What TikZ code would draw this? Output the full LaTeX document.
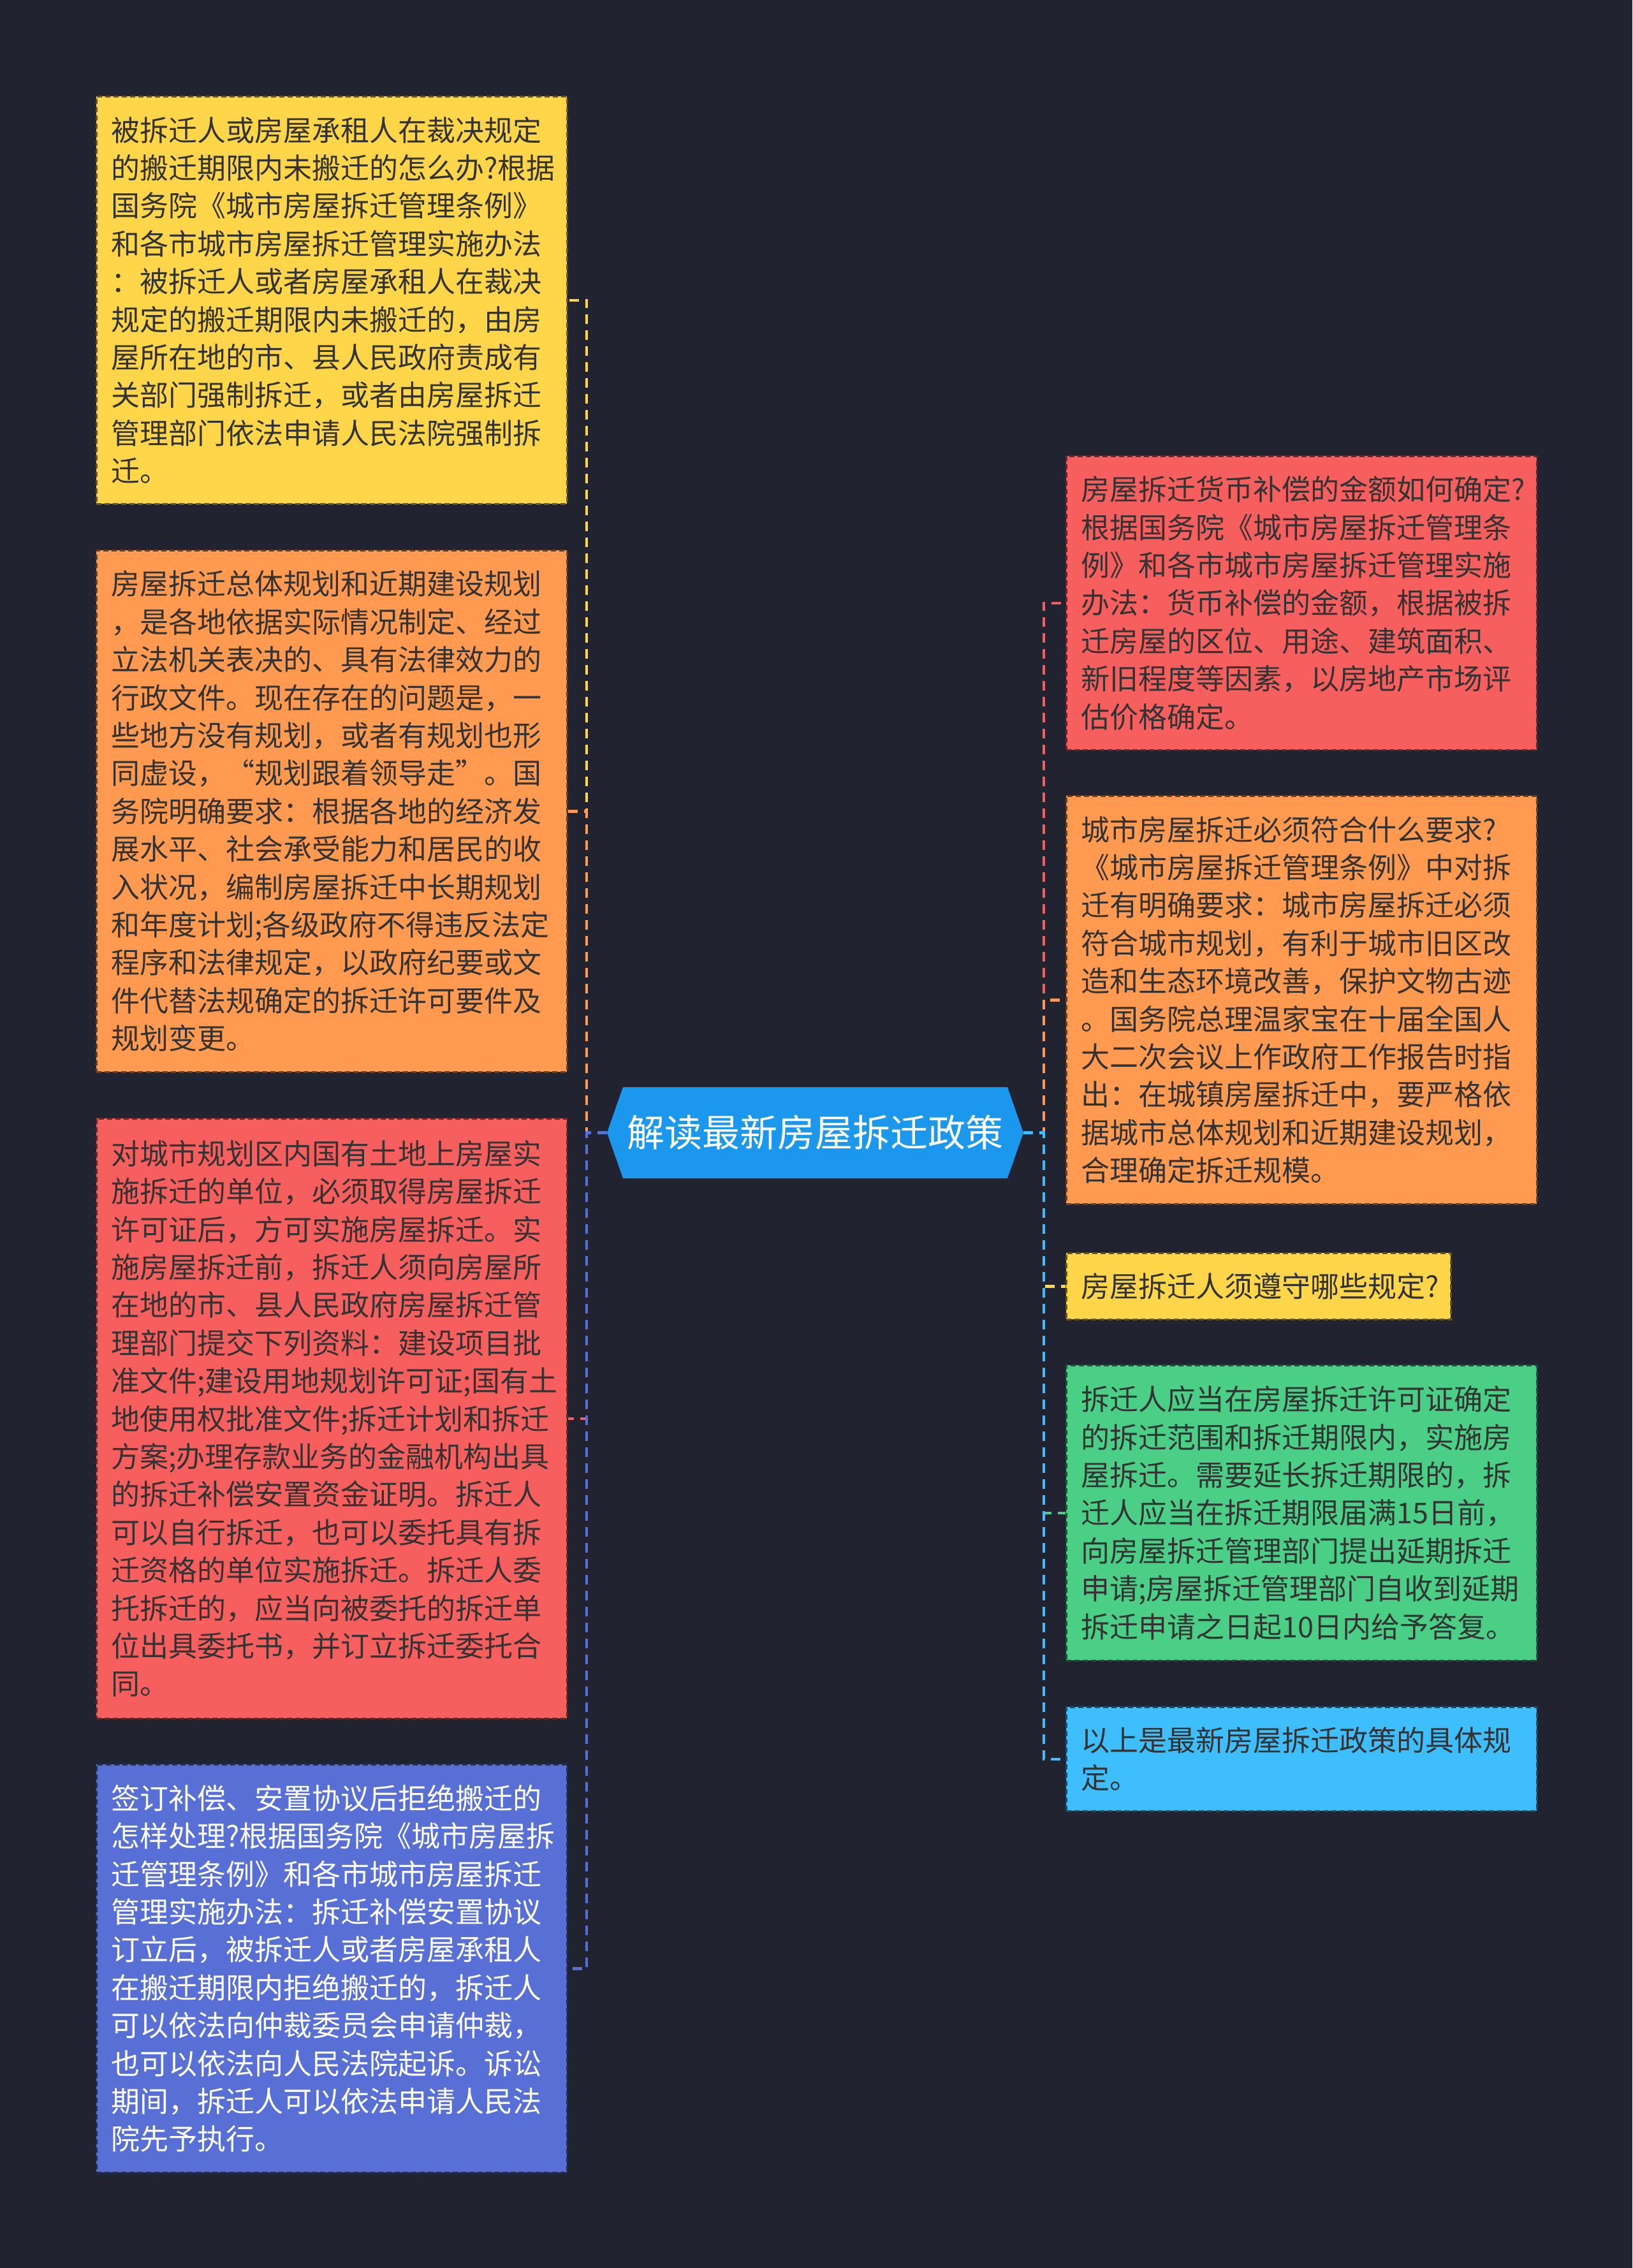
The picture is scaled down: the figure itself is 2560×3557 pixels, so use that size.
\documentclass[tikz,border=0pt]{standalone}
\usepackage{fontspec}
\setmainfont{Noto Sans CJK SC}
\definecolor{bg}{HTML}{212430}
\definecolor{cyel}{HTML}{FFD64A}
\definecolor{corg}{HTML}{FF9A50}
\definecolor{cred}{HTML}{F75E5E}
\definecolor{cind}{HTML}{5870D6}
\definecolor{cgrn}{HTML}{4BCE86}
\definecolor{ccyn}{HTML}{3FBEFD}
\definecolor{cctr}{HTML}{1B98EE}
\definecolor{txt}{HTML}{333333}
\tikzset{
  box/.style={rectangle, anchor=north west, inner xsep=23pt, inner ysep=0pt,
    text width=692pt, align=left, font=\fontsize{45}{59.4}\selectfont,
    text=txt, line width=2.5pt, dash pattern=on 8pt off 5pt},
  conn/.style={line width=4.5pt, dash pattern=on 15pt off 10pt},
}
\begin{document}
\begin{tikzpicture}[x=1pt,y=-1pt]
\useasboundingbox (0,0) rectangle (2560,3557);
\fill[bg] (0,0) rectangle (2560,3557);

% central node
\node[rectangle, inner sep=0pt, minimum width=653pt, minimum height=143pt,
  text=white, font=\fontsize{59}{59}\selectfont,
  path picture={\fill[cctr] (path picture bounding box.west)
     -- ([xshift=25pt]path picture bounding box.north west)
     -- ([xshift=-25pt]path picture bounding box.north east)
     -- (path picture bounding box.east)
     -- ([xshift=-25pt]path picture bounding box.south east)
     -- ([xshift=25pt]path picture bounding box.south west) -- cycle;}]
  (c) at (1278.5,1776.5) {解读最新房屋拆迁政策};

% left boxes
\node[box, fill=cyel, draw=cyel!40!black, minimum height=639pt] (l1) at (150,150) {%
被拆迁人或房屋承租人在裁决规定\\
的搬迁期限内未搬迁的怎么办?根据\\
国务院《城市房屋拆迁管理条例》\\
和各市城市房屋拆迁管理实施办法\\
：被拆迁人或者房屋承租人在裁决\\
规定的搬迁期限内未搬迁的，由房\\
屋所在地的市、县人民政府责成有\\
关部门强制拆迁，或者由房屋拆迁\\
管理部门依法申请人民法院强制拆\\
迁。};

\node[box, fill=corg, draw=corg!40!black, minimum height=818pt] (l2) at (150,862) {%
房屋拆迁总体规划和近期建设规划\\
，是各地依据实际情况制定、经过\\
立法机关表决的、具有法律效力的\\
行政文件。现在存在的问题是，一\\
些地方没有规划，或者有规划也形\\
同虚设，“规划跟着领导走”。国\\
务院明确要求：根据各地的经济发\\
展水平、社会承受能力和居民的收\\
入状况，编制房屋拆迁中长期规划\\
和年度计划;各级政府不得违反法定\\
程序和法律规定，以政府纪要或文\\
件代替法规确定的拆迁许可要件及\\
规划变更。};

\node[box, fill=cred, draw=cred!40!black, minimum height=941pt] (l3) at (150,1753) {%
对城市规划区内国有土地上房屋实\\
施拆迁的单位，必须取得房屋拆迁\\
许可证后，方可实施房屋拆迁。实\\
施房屋拆迁前，拆迁人须向房屋所\\
在地的市、县人民政府房屋拆迁管\\
理部门提交下列资料：建设项目批\\
准文件;建设用地规划许可证;国有土\\
地使用权批准文件;拆迁计划和拆迁\\
方案;办理存款业务的金融机构出具\\
的拆迁补偿安置资金证明。拆迁人\\
可以自行拆迁，也可以委托具有拆\\
迁资格的单位实施拆迁。拆迁人委\\
托拆迁的，应当向被委托的拆迁单\\
位出具委托书，并订立拆迁委托合\\
同。};

\node[box, fill=cind, draw=cind!40!black, text=white, minimum height=640pt] (l4) at (150,2766) {%
签订补偿、安置协议后拒绝搬迁的\\
怎样处理?根据国务院《城市房屋拆\\
迁管理条例》和各市城市房屋拆迁\\
管理实施办法：拆迁补偿安置协议\\
订立后，被拆迁人或者房屋承租人\\
在搬迁期限内拒绝搬迁的，拆迁人\\
可以依法向仲裁委员会申请仲裁，\\
也可以依法向人民法院起诉。诉讼\\
期间，拆迁人可以依法申请人民法\\
院先予执行。};

% right boxes
\node[box, fill=cred, draw=cred!40!black, minimum height=461pt] (r1) at (1671,714) {%
房屋拆迁货币补偿的金额如何确定?\\
根据国务院《城市房屋拆迁管理条\\
例》和各市城市房屋拆迁管理实施\\
办法：货币补偿的金额，根据被拆\\
迁房屋的区位、用途、建筑面积、\\
新旧程度等因素，以房地产市场评\\
估价格确定。};

\node[box, fill=corg, draw=corg!40!black, minimum height=640pt] (r2) at (1671,1247) {%
城市房屋拆迁必须符合什么要求?\\
《城市房屋拆迁管理条例》中对拆\\
迁有明确要求：城市房屋拆迁必须\\
符合城市规划，有利于城市旧区改\\
造和生态环境改善，保护文物古迹\\
。国务院总理温家宝在十届全国人\\
大二次会议上作政府工作报告时指\\
出：在城镇房屋拆迁中，要严格依\\
据城市总体规划和近期建设规划，\\
合理确定拆迁规模。};

\node[box, text width=557pt, fill=cyel, draw=cyel!40!black, minimum height=104pt] (r3) at (1671,1964) {%
房屋拆迁人须遵守哪些规定?};

\node[box, fill=cgrn, draw=cgrn!40!black, minimum height=463pt] (r4) at (1671,2140) {%
拆迁人应当在房屋拆迁许可证确定\\
的拆迁范围和拆迁期限内，实施房\\
屋拆迁。需要延长拆迁期限的，拆\\
迁人应当在拆迁期限届满15日前，\\
向房屋拆迁管理部门提出延期拆迁\\
申请;房屋拆迁管理部门自收到延期\\
拆迁申请之日起10日内给予答复。};

\node[box, fill=ccyn, draw=ccyn!40!black, minimum height=163pt] (r5) at (1671,2676) {%
以上是最新房屋拆迁政策的具体规\\
定。};

% connectors, left
\draw[conn, draw=cyel] (c.west) -- (920,1776.5) |- (l1.east);
\draw[conn, draw=corg] (c.west) -- (920,1776.5) |- (l2.east);
\draw[conn, draw=cred] (c.west) -- (920,1776.5) |- (l3.east);
\draw[conn, draw=cind] (c.west) -- (920,1776.5) |- (l4.east);
% connectors, right
\draw[conn, draw=cred] (c.east) -- (1637,1776.5) |- (r1.west);
\draw[conn, draw=corg] (c.east) -- (1637,1776.5) |- (r2.west);
\draw[conn, draw=cyel] (c.east) -- (1637,1776.5) |- (r3.west);
\draw[conn, draw=cgrn] (c.east) -- (1637,1776.5) |- (r4.west);
\draw[conn, draw=ccyn] (c.east) -- (1637,1776.5) |- (r5.west);
\end{tikzpicture}
\end{document}
